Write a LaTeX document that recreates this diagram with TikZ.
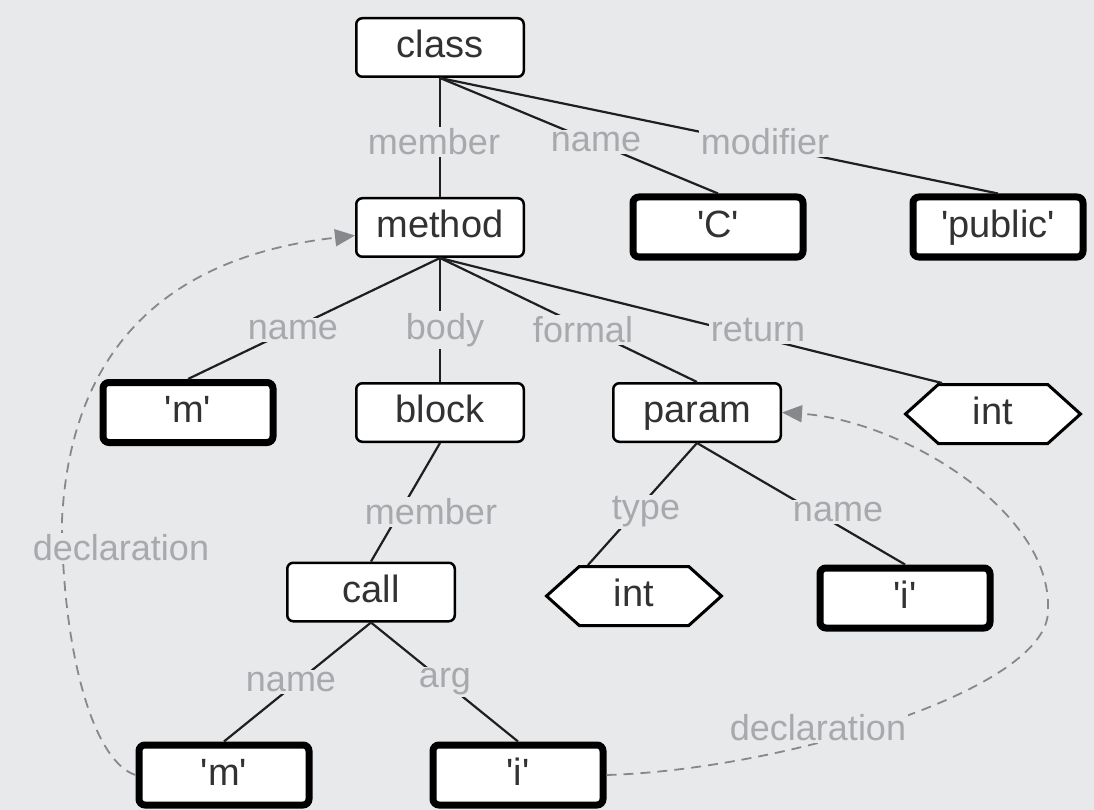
\documentclass[tikz,border=0pt]{standalone}
\usepackage{fontspec}
\setmainfont{Liberation Sans}
\usetikzlibrary{shapes.symbols,arrows.meta,calc}
\definecolor{bgc}{RGB}{232,233,235}
\definecolor{lblc}{RGB}{168,169,173}
\definecolor{txtc}{RGB}{50,50,52}
\definecolor{dashc}{RGB}{135,136,140}
\newcommand{\myq}{\textquotesingle}
\begin{document}
\begin{tikzpicture}[x=1pt,y=-1pt,
  innerbox/.style={draw=black, line width=2.5pt, rounded corners=6pt, fill=white,
    minimum width=167.5pt, minimum height=58.5pt, inner sep=0pt,
    text height=27pt, text depth=7pt,
    font=\fontsize{38}{40}\selectfont, text=txtc},
  leafbox/.style={innerbox, line width=7pt, minimum width=170pt, minimum height=60pt},
  hexbox/.style={draw=black, line width=3pt, fill=white, shape=signal,
    signal to=west and east, signal pointer angle=84,
    minimum width=175pt, minimum height=59pt, inner sep=0pt,
    text height=27pt, text depth=7pt,
    font=\fontsize{38}{40}\selectfont, text=txtc},
  lbl/.style={font=\fontsize{36}{38}\selectfont, text=lblc, fill=bgc, inner sep=2pt},
  treeedge/.style={draw=black!88, line width=2.2pt},
  decl/.style={draw=dashc, line width=1.8pt, dash pattern=on 10pt off 7pt,
    -{Triangle[length=20pt,width=17pt]}}
]
\useasboundingbox (0,0) rectangle (1094,810);
\fill[bgc] (0,0) rectangle (1094,810);

% nodes
\node[innerbox] (cls)  at (440,47.5)  {class};
\node[innerbox] (meth) at (440,227.5) {method};
\node[leafbox]  (C)    at (718,227)   {\myq C\myq};
\node[leafbox]  (pub)  at (998,227)   {\myq public\myq};
\node[leafbox]  (m1)   at (188,412.5) {\myq m\myq};
\node[innerbox] (blk)  at (440,412.5) {block};
\node[innerbox] (par)  at (697,412.5) {param};
\node[hexbox]   (int1) at (993,414)   {int};
\node[innerbox] (call) at (371,592)   {call};
\node[hexbox]   (int2) at (634,596)   {int};
\node[leafbox]  (i1)   at (905,598)   {\myq i\myq};
\node[leafbox]  (m2)   at (224,775)   {\myq m\myq};
\node[leafbox]  (i2)   at (518,775)   {\myq i\myq};

% tree edges
\draw[treeedge] (cls.south) -- (meth.north);
\draw[treeedge] (cls.south) -- (C.north);
\draw[treeedge] (cls.south) -- (pub.north);
\draw[treeedge] (meth.south) -- (m1.north);
\draw[treeedge] (meth.south) -- (blk.north);
\draw[treeedge] (meth.south) -- (par.north);
\draw[treeedge] (meth.south) -- ($(int1.north)+(-51,0)$);
\draw[treeedge] (blk.south) -- (call.north);
\draw[treeedge] (par.south) -- ($(int2.north)+(-46,0)$);
\draw[treeedge] (par.south) -- (i1.north);
\draw[treeedge] (call.south) -- (m2.north);
\draw[treeedge] (call.south) -- (i2.north);

% declaration links
\coordinate (wl) at (62,520);
\coordinate (wr) at (1048,610);
\draw[decl] (m2.west) .. controls (90,760) and (62,640) .. (wl)
  .. controls (68,400) and (120,262) .. ($(meth.west)+(0,8)$);
\draw[decl] (i2.east) .. controls (780,770) and (1050,690) .. (wr)
  .. controls (1052,510) and (900,420) .. (par.east);

% labels
\node[lbl] (l1)  at (434,142) {member};
\node[lbl] (l2)  at (596,142) {name};
\node[lbl] (l3)  at (765,142) {modifier};
\node[lbl] (l4)  at (293,330) {name};
\node[lbl] (l5)  at (445,330) {body};
\node[lbl] (l6)  at (583,330) {formal};
\node[lbl] (l7)  at (758,330) {return};
\node[lbl] (l8)  at (431,512) {member};
\node[lbl] (l9)  at (646,512) {type};
\node[lbl] (l10) at (838,512) {name};
\node[lbl] (l11) at (121,548) {declaration};
\node[lbl] (l12) at (291,682) {name};
\node[lbl] (l13) at (445,682) {arg};
\node[lbl] (l14) at (818,728) {declaration};
\end{tikzpicture}
\end{document}
